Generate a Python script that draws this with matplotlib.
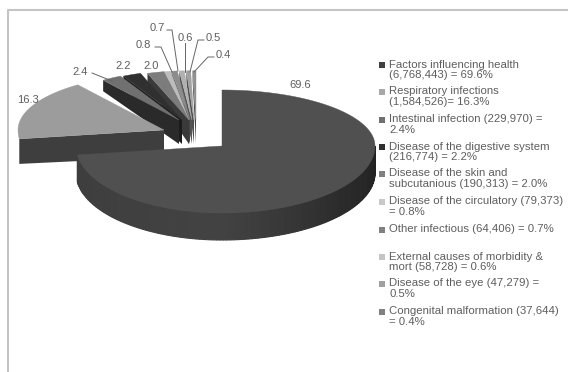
import numpy as np
import matplotlib
matplotlib.use("Agg")
import matplotlib.pyplot as plt

# Share of hospital visits by cause, percent
values = [69.6, 16.3, 2.4, 2.2, 2.0, 0.8, 0.7, 0.6, 0.5, 0.4]
value_labels = ["69.6", "16.3", "2.4", "2.2", "2.0", "0.8", "0.7", "0.6", "0.5", "0.4"]
legend_labels = [
    "Factors influencing health\n(6,768,443) = 69.6%",
    "Respiratory infections\n(1,584,526)= 16.3%",
    "Intestinal infection (229,970) =\n2.4%",
    "Disease of the digestive system\n(216,774) = 2.2%",
    "Disease of the skin and\nsubcutanious (190,313) = 2.0%",
    "Disease of the circulatory (79,373)\n= 0.8%",
    "Other infectious (64,406) = 0.7%",
    "External causes of morbidity &\nmort (58,728) = 0.6%",
    "Disease of the eye (47,279) =\n0.5%",
    "Congenital malformation (37,644)\n= 0.4%",
]

# Slice styling
top_colors = ["#505050", "#9c9c9c", "#707070", "#303030", "#7c7c7c",
              "#bcbcbc", "#8c8c8c", "#b0b0b0", "#a0a0a0", "#909090"]
wall_colors = ["#3a3a3a", "#3e3e3e", "#2a2a2a", "#1c1c1c", "#3a3a3a",
               "#5a5a5a", "#444444", "#555555", "#505050", "#484848"]
legend_colors = ["#404040", "#a8a8a8", "#707070", "#303030", "#808080",
                 "#c8c8c8", "#808080", "#c4c4c4", "#a0a0a0", "#808080"]
# Pull-out of each slice's tip from the pie centre, in pixels
tip_shift = [(0, 0), (-58, -16), (-43, -26), (-40, -26), (-33, -26),
             (-33, -26), (-32, -26), (-30, -26), (-28, -26), (-26, -26)]
rim_scale = [1, 1, .88, .88, .88, .88, .88, .88, .88, .88]
# Wall height at the rim and at the tip of each pulled-out slice
wall_rim = [27, 25, 11, 11, 11, 11, 11, 11, 11, 11]
wall_tip = [27, 27, 24, 24, 24, 24, 24, 24, 24, 24]
legend_y = [65, 92, 120, 147, 174, 202, 230, 257, 284, 312]
# Label anchors and leader paths for the data labels
label_xy = [(300, 85), (28, 100), (80, 72), (123, 66), (151, 66),
            (143, 45), (157, 28), (185, 38), (213, 38), (223, 55)]
leaders = {
    2: [(92, 73), (112, 81)],
    5: [(155, 47), (161, 47), (172, 72)],
    6: [(167, 30), (172, 30), (178, 71)],
    7: [(185, 43), (185, 72)],
    8: [(204, 40), (198, 40), (190, 72)],
    9: [(214, 57), (208, 57), (194, 72)],
}

CX, CY = 222, 146
RX_LEFT, RX_RIGHT, RY_BACK, RY_FRONT = 146, 153, 56, 67
DEPTH = 27
GREY = "#5e5e5e"


def rim(theta_deg, tip, scale=1.0):
    t = np.radians(theta_deg)
    s, c = np.sin(t), np.cos(t)
    rx = np.where(s >= 0, RX_RIGHT, RX_LEFT)
    ry = np.where(c >= 0, RY_BACK, RY_FRONT)
    return tip[0] + scale * rx * s, tip[1] - scale * ry * c


fig = plt.figure(figsize=(5.68, 3.72), dpi=100)
ax = fig.add_axes([0, 0, 1, 1])
ax.set_xlim(0, 568)
ax.set_ylim(372, 0)
ax.axis("off")

# Slide frame
ax.plot([7.5, 7.5, 568], [372, 10, 10], color="#c4c4c4", lw=1.5)

edges = np.concatenate([[0], np.cumsum(values)]) / sum(values) * 360
starts, ends = edges[:-1], edges[1:]

# Small slices and the respiratory slice, painted back to front
for i in range(len(values) - 1, 0, -1):
    tip = (CX + tip_shift[i][0], CY + tip_shift[i][1])
    th = np.linspace(starts[i], ends[i], 40)
    x, y = rim(th, tip, rim_scale[i])
    # wall along the leading straight edge
    ax.fill([x[0], tip[0], tip[0], x[0]],
            [y[0], tip[1], tip[1] + wall_tip[i], y[0] + wall_rim[i]],
            color=wall_colors[i], lw=0, zorder=2 + (10 - i))
    ax.fill(np.r_[tip[0], x], np.r_[tip[1], y], color=top_colors[i], lw=0.3,
            ec=top_colors[i], zorder=2 + (10 - i))

# Main slice: shaded rim first, then its top face
th = np.linspace(ends[0], 90, 130)
shade = np.interp(th, [90, 130, 180, 264], [0.13, 0.17, 0.26, 0.24])
for a, b, g in zip(th[:-1], th[1:], shade):
    xs, ys = rim(np.array([a, b]), (CX, CY))
    ax.fill([xs[0], xs[1], xs[1], xs[0]], [ys[0], ys[1], ys[1] + DEPTH, ys[0] + DEPTH],
            color=str(g), lw=0.8, ec=str(g), zorder=20)
th = np.linspace(starts[0], ends[0], 200)
x, y = rim(th, (CX, CY))
ax.fill(np.r_[CX, x], np.r_[CY, y], color=top_colors[0], lw=0.3, ec=top_colors[0], zorder=21)

# Data labels and leader lines
for i, (lab, (lx, ly)) in enumerate(zip(value_labels, label_xy)):
    ax.text(lx, ly, lab, ha="center", va="center", fontsize=8, color=GREY,
            family="Liberation Sans", zorder=30)
for pts in leaders.values():
    px, py = zip(*pts)
    ax.plot(px, py, color="#666666", lw=0.7, zorder=30)

# Legend
for lab, ly, col in zip(legend_labels, legend_y, legend_colors):
    ax.plot(382, ly, marker="s", ms=3.8, color=col, mew=0, zorder=30)
    ax.text(389, ly - 5.5, lab, ha="left", va="top", fontsize=8.2, color=GREY,
            family="Liberation Sans", linespacing=1.1, zorder=30)

fig.savefig("out.png", dpi=100)
